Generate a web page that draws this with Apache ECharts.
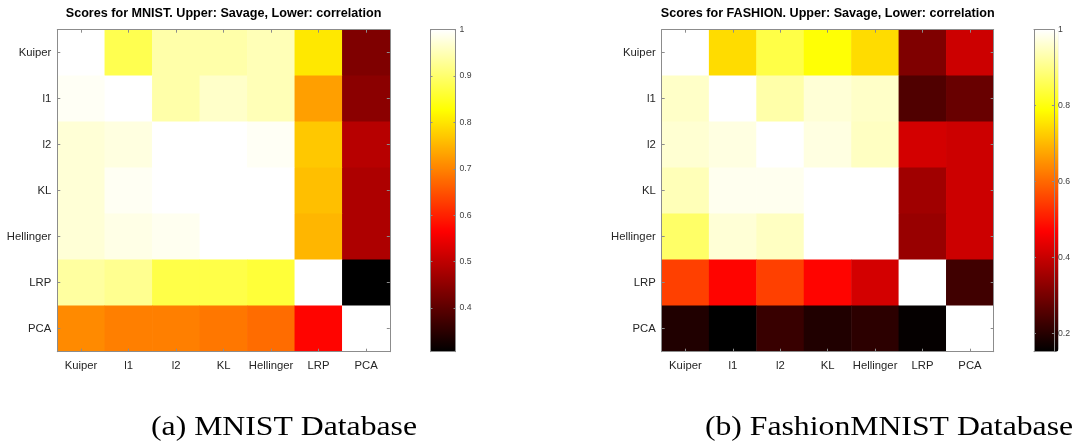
<!DOCTYPE html>
<html>
<head>
<meta charset="utf-8">
<script src="https://cdn.jsdelivr.net/npm/echarts@6/dist/echarts.min.js"></script>
<style>
html,body{margin:0;padding:0;background:#fff;}
#chart{width:1073px;height:443px;}
</style>
</head>
<body>
<div id="chart"></div>
<script>
// ---------------- data ----------------
const CATEGORIES = ['Kuiper', 'l1', 'l2', 'KL', 'Hellinger', 'LRP', 'PCA'];

// rows top-to-bottom, columns left-to-right (upper: Savage, lower: correlation)
const MNIST_SCORES = [
  [1.000, 0.881, 0.941, 0.941, 0.951, 0.803, 0.436],
  [0.993, 1.000, 0.941, 0.963, 0.951, 0.729, 0.448],
  [0.972, 0.979, 1.000, 1.000, 0.993, 0.770, 0.493],
  [0.972, 0.992, 1.000, 1.000, 1.000, 0.761, 0.483],
  [0.972, 0.983, 0.990, 1.000, 1.000, 0.752, 0.483],
  [0.935, 0.924, 0.875, 0.875, 0.865, 1.000, 0.306],
  [0.707, 0.696, 0.696, 0.688, 0.676, 0.570, 1.000]
];
const FASHION_SCORES = [
  [1.000, 0.744, 0.847, 0.792, 0.744, 0.310, 0.406],
  [0.954, 1.000, 0.928, 0.966, 0.954, 0.251, 0.281],
  [0.962, 0.975, 1.000, 0.975, 0.949, 0.415, 0.406],
  [0.941, 0.987, 0.987, 1.000, 1.000, 0.351, 0.406],
  [0.873, 0.966, 0.949, 1.000, 1.000, 0.341, 0.406],
  [0.549, 0.474, 0.549, 0.474, 0.415, 1.000, 0.231],
  [0.191, 0.151, 0.221, 0.191, 0.206, 0.157, 1.000]
];
const MNIST_RANGE = [0.306, 1];
const FASHION_RANGE = [0.151, 1];
const MNIST_TITLE = 'Scores for MNIST. Upper: Savage, Lower: correlation';
const FASHION_TITLE = 'Scores for FASHION. Upper: Savage, Lower: correlation';
const CAPTIONS = ['(a) MNIST Database', '(b) FashionMNIST Database'];

// ---------------- style / layout ----------------
// MATLAB "hot" colormap: stops every 1/8
const HOT = ['#000000', '#550000', '#aa0000', '#ff0000', '#ff5500', '#ffaa00', '#ffff00', '#ffff80', '#ffffff'];
const AXIS_COLOR = '#8c8c8c';
const LABEL_COLOR = '#262626';
const SANS = '"Liberation Sans", Arial, Helvetica, sans-serif';
const SERIF = '"Liberation Serif", "Times New Roman", serif';

const PANELS = [
  { values: MNIST_SCORES, range: MNIST_RANGE, title: MNIST_TITLE, caption: CAPTIONS[0], split: 7,
    plot: { left: 57.3, top: 29.7, width: 332.5, height: 322 }, cbarLeft: 430.5, cbarWidth: 25, captionX: 284 },
  { values: FASHION_SCORES, range: FASHION_RANGE, title: FASHION_TITLE, caption: CAPTIONS[1], split: 4,
    plot: { left: 661.7, top: 29.7, width: 332, height: 322 }, cbarLeft: 1034, cbarWidth: 24.5, captionX: 889 }
];

function toCells(matrix) {
  const out = [];
  matrix.forEach((row, r) => row.forEach((v, c) => out.push([c, r, v])));
  return out;
}

const grid = [], xAxis = [], yAxis = [], series = [], visualMap = [], title = [], graphic = [];

PANELS.forEach((p, i) => {
  const gPlot = grid.length;
  grid.push(Object.assign({ containLabel: false }, p.plot));
  const gBar = grid.length;
  grid.push({ left: p.cbarLeft, top: p.plot.top, width: p.cbarWidth, height: p.plot.height, containLabel: false });

  const tickCommon = { show: true, inside: true, length: 3, alignWithLabel: true, interval: 0,
                       lineStyle: { color: AXIS_COLOR, width: 1 } };
  const lineCommon = { show: true, onZero: false, lineStyle: { color: AXIS_COLOR, width: 1 } };

  // heatmap axes (drawn above the cells)
  const xb = xAxis.length;
  xAxis.push({ type: 'category', gridIndex: gPlot, data: CATEGORIES, position: 'bottom', z: 5,
    axisLine: lineCommon, axisTick: tickCommon, splitLine: { show: false },
    axisLabel: { interval: 0, margin: 9, color: LABEL_COLOR, fontSize: 11.3, fontFamily: SANS } });
  xAxis.push({ type: 'category', gridIndex: gPlot, data: CATEGORIES, position: 'top', z: 5,
    axisLine: lineCommon, axisTick: tickCommon, axisLabel: { show: false }, splitLine: { show: false } });
  const yl = yAxis.length;
  yAxis.push({ type: 'category', gridIndex: gPlot, data: CATEGORIES, inverse: true, position: 'left', z: 5,
    axisLine: lineCommon, axisTick: tickCommon, splitLine: { show: false },
    axisLabel: { interval: 0, margin: 6, color: LABEL_COLOR, fontSize: 11.3, fontFamily: SANS } });
  yAxis.push({ type: 'category', gridIndex: gPlot, data: CATEGORIES, inverse: true, position: 'right', z: 5,
    axisLine: lineCommon, axisTick: tickCommon, axisLabel: { show: false }, splitLine: { show: false } });

  // colorbar axes
  const cbTick = { show: true, inside: true, length: 2, lineStyle: { color: AXIS_COLOR, width: 1 } };
  xAxis.push({ type: 'category', gridIndex: gBar, data: [''], position: 'bottom', z: 6,
    axisLine: lineCommon, axisTick: { show: false }, axisLabel: { show: false } });
  xAxis.push({ type: 'category', gridIndex: gBar, data: [''], position: 'top', z: 6,
    axisLine: lineCommon, axisTick: { show: false }, axisLabel: { show: false } });
  yAxis.push({ type: 'value', gridIndex: gBar, min: p.range[0], max: p.range[1], splitNumber: p.split,
    position: 'right', z: 6, axisLine: lineCommon, axisTick: cbTick, splitLine: { show: false },
    axisLabel: { showMinLabel: false, margin: 4, color: '#404040', fontSize: 8.7, fontFamily: SANS,
      formatter: v => (Math.round(v * 10) / 10).toString() } });
  yAxis.push({ type: 'value', gridIndex: gBar, min: p.range[0], max: p.range[1], splitNumber: p.split,
    position: 'left', z: 6, axisLine: lineCommon, axisTick: cbTick, splitLine: { show: false },
    axisLabel: { show: false } });

  series.push({ type: 'heatmap', xAxisIndex: xb, yAxisIndex: yl, data: toCells(p.values), z: 2,
    itemStyle: { borderWidth: 0 }, emphasis: { disabled: true }, progressive: 0 });

  visualMap.push({ type: 'continuous', seriesIndex: i, min: p.range[0], max: p.range[1],
    calculable: false, realtime: false, orient: 'vertical', left: p.cbarLeft, top: p.plot.top,
    itemWidth: p.cbarWidth, itemHeight: p.plot.height, padding: 0, text: null, showLabel: false,
    inRange: { color: HOT }, z: 2 });

  title.push({ text: p.title, left: p.plot.left + p.plot.width / 2, top: 7, textAlign: 'center', padding: 0,
    textStyle: { fontSize: 12.6, fontWeight: 'bold', color: '#000', fontFamily: SANS } });
});

// captions (serif), stretched to the reference width
const CAP_FONT_SIZE = 27;
const meas = document.createElement('canvas').getContext('2d');
meas.font = CAP_FONT_SIZE + 'px "Liberation Serif"';
const capScale = 266 / meas.measureText(CAPTIONS[0]).width;
PANELS.forEach(p => {
  graphic.push({ type: 'text', x: p.captionX, y: 428, scaleX: capScale, silent: true,
    style: { text: p.caption, x: 0, y: 0, align: 'center', verticalAlign: 'middle',
      font: CAP_FONT_SIZE + 'px ' + SERIF, fill: '#000' } });
});

const chart = echarts.init(document.getElementById('chart'), null, { renderer: 'canvas' });
chart.setOption({
  backgroundColor: '#ffffff',
  animation: false,
  title, grid, xAxis, yAxis, series, visualMap, graphic
});
</script>
</body>
</html>
